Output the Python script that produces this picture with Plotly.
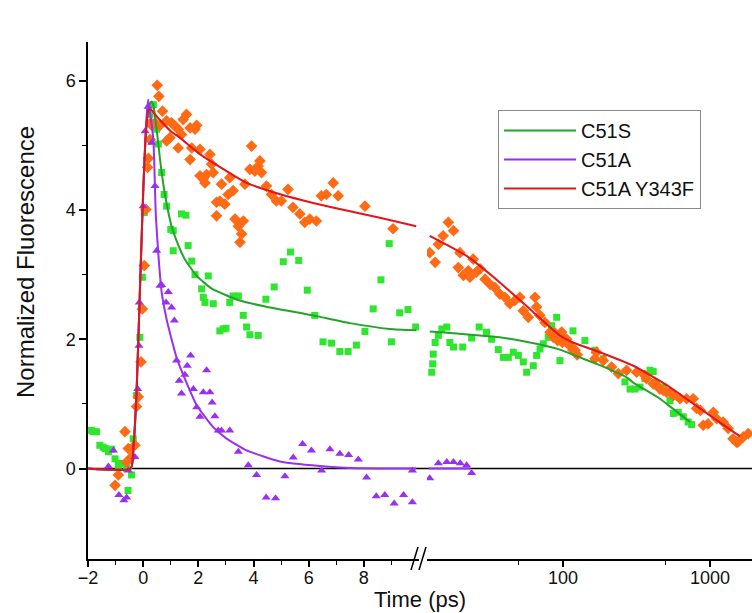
import plotly.graph_objects as go

# ---------------- data ----------------
# C51A Y343F (orange diamonds), linear segment (ps)
y343f_x_lin = [-1.02, -0.9, -0.66, -0.6, -0.54, -0.42, -0.3, -0.24, -0.18, -0.08, -0.03, 0.04, 0.1, 0.16, 0.19,
               0.25, 0.28, 0.31, 0.43, 0.51, 0.57, 0.61, 0.7, 0.85, 0.85, 0.97, 1.03, 1.15, 1.27, 1.27, 1.39,
               1.45, 1.57, 1.7, 1.7, 1.76, 1.88, 1.94, 2.06, 2.06, 2.18, 2.24, 2.3, 2.42, 2.48, 2.54, 2.66,
               2.66, 2.78, 2.84, 2.96, 3.08, 3.14, 3.26, 3.33, 3.45, 3.51, 3.57, 3.63, 3.69, 3.87, 3.93, 4.05,
               4.17, 4.23, 4.29, 4.47, 4.65, 4.83, 5.01, 5.25, 5.43, 5.68, 5.86, 6.04, 6.28, 6.46, 6.64, 6.89,
               7.07, 8.04, 9.06]
y343f_y_lin = [-0.26, -0.1, 0.57, 0.1, 0.31, 0.18, 0.36, 0.96, 1.11, 1.65, 2.47, 3.14, 4.01, 4.66, 4.8,
               5.09, 5.35, 5.31, 5.35, 5.93, 5.76, 5.31, 5.53, 5.38, 5.07, 5.12, 5.35, 5.3, 5.25, 4.96, 5.17,
               5.4, 5.48, 5.27, 4.78, 4.96, 5.25, 5.31, 4.94, 4.53, 4.48, 4.42, 4.55, 4.86, 4.71, 4.58, 4.12,
               3.91, 4.14, 4.4, 4.09, 4.24, 4.5, 4.3, 3.86, 3.75, 3.5, 3.63, 3.83, 4.4, 4.63, 4.99, 4.6,
               4.68, 4.76, 4.58, 4.37, 4.24, 4.14, 4.14, 4.32, 4.04, 3.94, 3.81, 3.86, 3.83, 4.22, 4.24, 4.42,
               4.22, 4.06, 3.71]
# C51A Y343F, log segment (ps)
y343f_x_log = [12.4, 13.5, 14.2, 15.3, 16.6, 18, 19.4, 19.9, 21, 21.6, 22.7, 23.3, 24.5, 25.8, 27.3, 29.5,
               31.9, 34.4, 37.2, 40.3, 43.5, 47.1, 50.9, 53.7, 58.1, 64.5, 66.1, 69.6, 75.4, 81.6, 86, 88,
               92, 95.4, 98, 99, 103, 106, 108, 112, 117, 121, 125, 165, 169, 188, 214, 238, 271, 317, 361,
               370, 411, 422, 457, 481, 508, 535, 563, 625, 694, 770, 812, 860, 900, 970, 1055, 1110, 1230,
               1330, 1435, 1515, 1550, 1690, 1820]
y343f_y_log = [3.34, 3.19, 3.47, 3.6, 3.81, 3.68, 3.11, 3.34, 2.99, 3.01, 3.06, 2.96, 3.24, 3.04, 3.09, 2.93,
               2.85, 2.8, 2.7, 2.65, 2.55, 2.6, 2.65, 2.44, 2.34, 2.65, 2.5, 2.37, 2.26, 2.11, 2.03, 2.1,
               1.98, 2.08, 2.11, 1.95, 1.98, 2.0, 1.93, 1.9, 1.83, 1.83, 1.76, 1.7, 1.8, 1.67, 1.57, 1.47, 1.52,
               1.49, 1.44, 1.39, 1.31, 1.31, 1.23, 1.21, 1.18, 1.18, 1.13, 1.08, 1.08, 1.08, 0.93, 0.9, 0.67,
               0.69, 0.87, 0.77, 0.72, 0.62, 0.46, 0.41, 0.41, 0.49, 0.54]

# C51S (green squares)
c51s_x_lin = [-1.87, -1.81, -1.69, -1.57, -1.45, -1.38, -1.26, -1.14, -1.02, -0.9, -0.78, -0.6, -0.55, -0.42,
              -0.36, -0.24, -0.12, -0.03, 0.04, 0.25, 0.37, 0.49, 0.55, 0.67, 0.76, 0.85, 1.0, 1.09, 1.09,
              1.39, 1.55, 1.63, 1.76, 1.88, 2.12, 2.18, 2.24, 2.36, 2.54, 2.78, 2.9, 3.0, 3.14, 3.26, 3.45,
              3.63, 3.75, 3.87, 4.17, 4.45, 4.75, 5.08, 5.34, 5.64, 5.95, 6.22, 6.52, 6.83, 7.13, 7.43, 7.73,
              8.04, 8.34, 8.62, 8.92, 9.0, 9.3, 9.6, 9.88]
c51s_y_lin = [0.59, 0.57, 0.57, 0.36, 0.33, 0.31, 0.26, 0.3, 0.15, 0.05, 0.08, 0.0, -0.34, -0.1,
              0.46, 1.13, 2.03, 2.96, 3.96, 5.48, 5.63, 5.25, 5.02, 4.58, 4.24, 4.06, 3.7, 3.68, 3.37,
              3.94, 3.92, 3.45, 3.21, 3.0, 2.78, 2.65, 2.57, 2.98, 2.55, 2.13, 2.16, 2.17, 2.57, 2.67, 2.67,
              2.37, 2.19, 2.07, 2.06, 2.62, 2.81, 3.2, 3.35, 3.22, 2.76, 2.37, 1.96, 1.94, 1.81, 1.81, 1.91,
              2.12, 2.47, 2.92, 3.48, 1.96, 2.41, 2.46, 2.19]
c51s_x_log = [12.8, 13, 13.1, 13.5, 14.2, 15, 16.2, 17, 18, 20.8, 23.9, 26.9, 30.2, 32.7, 36.3, 39.3, 42.5,
              45.9, 49.7, 53.7, 56.6, 62.8, 66.2, 69.8, 73.5, 79.4, 83.7, 90.6, 95.4, 117, 141, 165, 188,
              264, 286, 309, 334, 361, 391, 411, 433, 481, 535, 563, 608, 658, 711, 750]
c51s_y_log = [1.49, 1.62, 1.77, 1.95, 2.06, 2.16, 2.19, 1.95, 1.88, 1.88, 2.02, 2.19, 2.11, 2.0, 1.84, 1.72, 1.72,
              1.8, 1.75, 1.65, 1.49, 1.59, 1.75, 1.85, 1.93, 2.03, 2.21, 2.34, 1.67, 2.13, 1.98, 1.83, 1.7,
              1.34, 1.23, 1.23, 1.26, 1.39, 1.52, 1.5, 1.31, 1.26, 1.05, 0.85, 0.87, 0.8, 0.72, 0.68]

# C51A (purple triangles)
c51a_x_lin = [-1.26, -1.08, -0.88, -0.7, -0.6, -0.54, -0.3, -0.2, -0.15, -0.14, 0.0, 0.07, 0.18, 0.31, 0.43,
              0.49, 0.61, 0.67, 0.83, 0.91, 1.03, 1.13, 1.21, 1.31, 1.39, 1.51, 1.6, 1.72, 1.82, 1.94, 2.06,
              2.18, 2.3, 2.42, 2.5, 2.6, 2.72, 2.84, 3.14, 3.45, 3.81, 4.11, 4.46, 4.8, 5.14, 5.44, 5.78,
              6.1, 6.47, 6.77, 7.13, 7.45, 7.8, 8.1, 8.45, 8.76, 9.1, 9.44, 9.76, 9.76]
c51a_y_lin = [0.03, 0.28, -0.41, -0.49, -0.45, -0.03, 0.18, 1.23, 1.9, 2.57, 4.06, 5.22, 5.6, 5.04, 4.37,
              3.37, 2.83, 2.84, 2.57, 2.73, 2.49, 2.29, 1.67, 1.36, 1.16, 1.45, 1.59, 1.75, 1.23, 0.95, 0.8,
              1.18, 1.52, 1.18, 1.02, 0.81, 0.59, 0.59, 0.59, 0.26, 0.05, -0.1, -0.45, -0.46, -0.12, 0.17, 0.38,
              0.28, -0.03, 0.3, 0.23, 0.21, 0.14, -0.14, -0.43, -0.41, -0.54, -0.41, -0.52, -0.03]
c51a_x_log = [12.4, 14.2, 16.2, 18, 20, 22.1, 23.9]
c51a_y_log = [-0.15, 0.08, 0.1, 0.1, 0.08, 0.05, -0.07]

# Fit curves
fit_c51s_x_lin = [-2, -0.45, -0.35, -0.24, -0.12, 0.0, 0.1, 0.2, 0.3, 0.37, 0.5, 0.67, 0.85, 1.03, 1.33, 1.51,
                  1.94, 2.5, 3.5, 4.5, 6.16, 7.5, 8.94, 9.9]
fit_c51s_y_lin = [0, 0, 0.35, 1.18, 2.73, 4.27, 5.2, 5.6, 5.68, 5.62, 5.2, 4.58, 4.1, 3.75, 3.4, 3.24,
                  2.98, 2.78, 2.6, 2.5, 2.37, 2.25, 2.16, 2.14]
fit_c51s_x_log = [12.4, 37, 66, 82, 95, 130, 178, 271, 301, 457, 508, 731]
fit_c51s_y_log = [2.12, 2.03, 1.93, 1.88, 1.84, 1.72, 1.6, 1.41, 1.33, 1.08, 1.0, 0.72]

fit_c51a_x_lin = [-2, -0.45, -0.35, -0.24, -0.12, 0.0, 0.1, 0.18, 0.25, 0.37, 0.46, 0.57, 0.67, 0.85, 1.03,
                  1.21, 1.51, 1.94, 2.54, 3.0, 3.75, 4.96, 6.4, 7.5, 9.9]
fit_c51a_y_lin = [0, 0, 0.35, 1.18, 2.73, 4.27, 5.3, 5.71, 5.5, 5.09, 3.91, 3.2, 2.73, 2.31, 2.0,
                  1.72, 1.39, 0.98, 0.64, 0.47, 0.28, 0.11, 0.04, 0.01, 0]
fit_c51a_x_log = [12.2, 23.5]
fit_c51a_y_log = [0, 0]

fit_y343f_x_lin = [-2, -0.45, -0.35, -0.24, -0.12, 0.0, 0.1, 0.2, 0.3, 0.43, 0.7, 1.0, 1.33, 2.0, 2.54, 3.75,
                   5.0, 6.16, 7.5, 8.58, 9.9]
fit_y343f_y_lin = [0, 0, 0.35, 1.18, 2.73, 4.27, 5.2, 5.55, 5.55, 5.48, 5.35, 5.22, 5.12, 4.88, 4.73, 4.42,
                   4.24, 4.11, 3.98, 3.88, 3.75]
fit_y343f_x_log = [12.4, 22.1, 37.2, 62.8, 95, 117, 178, 301, 508, 854, 1437, 1600]
fit_y343f_y_log = [3.6, 3.29, 2.88, 2.42, 2.06, 1.95, 1.8, 1.59, 1.29, 0.93, 0.57, 0.5]

series_names = ["C51S", "C51A", "C51A Y343F"]

# ---------------- styles ----------------
ORANGE = "#ff6a14"
GREEN_PT = "#2ee62e"
PURPLE = "#9a2ff2"
GREEN_LN = "#23a32a"
RED_LN = "#e3141c"
FONT = "Liberation Sans, Arial, sans-serif"

fig = go.Figure()

def pts(x, y, axis, color, symbol, size):
    fig.add_trace(go.Scatter(x=x, y=y, mode="markers", xaxis=axis, yaxis="y", showlegend=False,
                             marker=dict(color=color, symbol=symbol, size=size, line=dict(width=0)),
                             hoverinfo="x+y"))

def fit(x, y, axis, color, name, show):
    fig.add_trace(go.Scatter(x=x, y=y, mode="lines", xaxis=axis, yaxis="y", name=name,
                             legendgroup=name, showlegend=show,
                             line=dict(color=color, width=2, shape="spline", smoothing=0.5)))

# scatter data
pts(c51s_x_lin, c51s_y_lin, "x", GREEN_PT, "square", 7)
pts(c51s_x_log, c51s_y_log, "x2", GREEN_PT, "square", 7)
pts(y343f_x_lin, y343f_y_lin, "x", ORANGE, "diamond", 9)
pts(y343f_x_log, y343f_y_log, "x2", ORANGE, "diamond", 9)
pts(c51a_x_lin, c51a_y_lin, "x", PURPLE, "triangle-up", 8)
pts(c51a_x_log, c51a_y_log, "x2", PURPLE, "triangle-up", 8)

# fit lines (legend order C51S, C51A, C51A Y343F)
fit(fit_c51s_x_lin, fit_c51s_y_lin, "x", GREEN_LN, series_names[0], True)
fit(fit_c51a_x_lin, fit_c51a_y_lin, "x", PURPLE, series_names[1], True)
fit(fit_y343f_x_lin, fit_y343f_y_lin, "x", RED_LN, series_names[2], True)
fit(fit_c51s_x_log, fit_c51s_y_log, "x2", GREEN_LN, series_names[0], False)
fit(fit_c51a_x_log, fit_c51a_y_log, "x2", PURPLE, series_names[1], False)
fit(fit_y343f_x_log, fit_y343f_y_log, "x2", RED_LN, series_names[2], False)

# the page's body margin is removed (post_script), so the figure fills the window
W, H = 752, 613
PLOT_L, PLOT_R, PLOT_T, PLOT_B = 88, 752, 42, 559   # plot area in window pixels
L, R, T, B = PLOT_L, W - PLOT_R, PLOT_T, H - PLOT_B
pw, ph = W - L - R, H - T - B
def px(x):
    return (x - L) / pw
def py(y):
    return (H - B - y) / ph

axis_common = dict(showline=True, linecolor="black", linewidth=1.5, ticks="outside",
                   tickwidth=1.5, tickcolor="black", showgrid=False, zeroline=False,
                   tickfont=dict(family=FONT, size=18, color="#111"))
minor_style = dict(ticklen=4, tickwidth=1.2, tickcolor="black", ticks="outside")

fig.update_layout(
    width=W, height=H,
    margin=dict(l=L, r=R, t=T, b=B, autoexpand=False),
    paper_bgcolor="white", plot_bgcolor="white",
    font=dict(family=FONT, color="#111"),
    xaxis=dict(domain=[0, px(419)], range=[-2, 10], tickvals=[-2, 0, 2, 4, 6, 8], anchor="y",
               ticklen=6, ticklabelstandoff=-4, minor=dict(tickvals=[-1, 1, 3, 5, 7, 9], **minor_style),
               **axis_common),
    xaxis2=dict(domain=[px(427), 1], type="log", range=[1.075, 3.286], tickvals=[100, 1000],
                ticktext=["100", "1000"], anchor="y",
                ticklen=6, ticklabelstandoff=-4, minor=dict(tickvals=[50, 500], **minor_style),
                **axis_common),
    yaxis=dict(range=[-1.4, 6.6], tickvals=[0, 2, 4, 6], anchor="x",
               ticklen=7, minor=dict(tickvals=[1, 3, 5], **minor_style),
               **axis_common),
    legend=dict(x=px(498), y=py(110), xanchor="left", yanchor="top",
                bordercolor="#888", borderwidth=1, bgcolor="white",
                font=dict(family=FONT, size=20, color="#111"), itemwidth=72,
                tracegroupgap=0),
    showlegend=True,
)

# zero reference line across the full width
fig.add_shape(type="line", xref="paper", yref="y", x0=0, x1=1, y0=0, y1=0,
              line=dict(color="black", width=1.5), layer="below")
# axis-break marks
for x0 in (411, 419):
    fig.add_shape(type="line", xref="paper", yref="paper",
                  x0=px(x0), y0=py(570), x1=px(x0 + 7), y1=py(547),
                  line=dict(color="black", width=1.5))

# axis titles
fig.add_annotation(text="Time (ps)", xref="paper", yref="paper", x=px(420), y=py(600),
                   showarrow=False, font=dict(family=FONT, size=22, color="#111"),
                   xanchor="center", yanchor="middle")
fig.add_annotation(text="Normalized Fluorescence", xref="paper", yref="paper", x=px(25), y=py(262),
                   showarrow=False, textangle=-90, font=dict(family=FONT, size=24, color="#111"),
                   xanchor="center", yanchor="middle")

fig.write_html("out.html", config={"displayModeBar": False},
               post_script="document.body.style.margin='0';document.body.style.overflow='hidden';")
